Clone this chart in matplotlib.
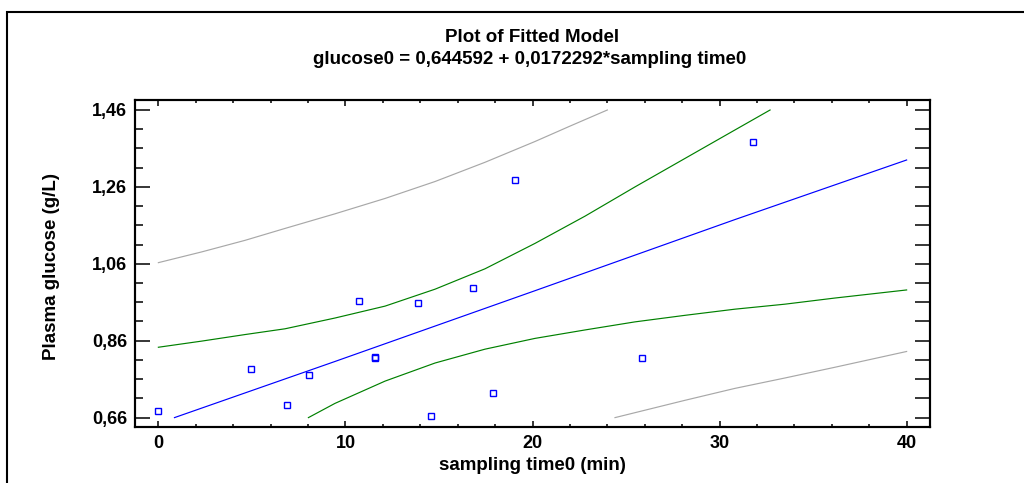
import numpy as np
import matplotlib.pyplot as plt
from matplotlib.ticker import FixedLocator, MultipleLocator, FuncFormatter
from matplotlib.patches import Rectangle

# observed points (sampling time, plasma glucose)
obs_time = [0, 4.94, 6.9, 8.07, 10.71, 11.56, 11.60, 13.88, 14.56, 16.82, 17.9, 19.06, 25.83, 31.77]
obs_gluc = [0.676, 0.787, 0.694, 0.771, 0.964, 0.816, 0.817, 0.957, 0.665, 0.996, 0.725, 1.279, 0.815, 1.377]

# fitted line
fit_x = [0.86, 9.44, 20.13, 30.82, 40.0]
fit_y = [0.66, 0.806, 0.990, 1.175, 1.330]

# confidence limits (green)
conf_up_x = [0, 2.32, 4.63, 6.77, 9.44, 12.12, 14.79, 17.46, 20.13, 22.81, 25.48, 28.15, 30.82, 32.7]
conf_up_y = [0.843, 0.859, 0.876, 0.891, 0.919, 0.950, 0.994, 1.047, 1.113, 1.184, 1.260, 1.334, 1.408, 1.46]
conf_lo_x = [8.02, 9.44, 12.12, 14.79, 17.46, 20.13, 22.81, 25.48, 28.15, 30.82, 33.49, 36.17, 40.0]
conf_lo_y = [0.66, 0.697, 0.755, 0.802, 0.838, 0.866, 0.888, 0.909, 0.926, 0.942, 0.955, 0.971, 0.992]

# prediction limits (gray)
pred_up_x = [0, 2.32, 4.63, 6.77, 9.44, 12.12, 14.79, 17.46, 20.13, 22.0, 24.0]
pred_up_y = [1.063, 1.091, 1.121, 1.152, 1.190, 1.230, 1.274, 1.324, 1.378, 1.418, 1.46]
pred_lo_x = [24.41, 28.15, 30.82, 33.49, 36.17, 40.0]
pred_lo_y = [0.66, 0.705, 0.736, 0.763, 0.791, 0.832]

y_ticks = [0.66, 0.86, 1.06, 1.26, 1.46]
x_ticks = [0, 10, 20, 30, 40]

plt.rcParams['font.family'] = ['Liberation Sans', 'DejaVu Sans']
plt.rcParams['font.weight'] = 'bold'

W, H = 1024, 483
fig = plt.figure(figsize=(W / 100, H / 100), dpi=100)
ax = fig.add_axes([135 / W, 1 - 427 / H, (930 - 135) / W, (427 - 100) / H])

ax.plot(pred_up_x, pred_up_y, color='#a8a8a8', lw=0.85)
ax.plot(pred_lo_x, pred_lo_y, color='#a8a8a8', lw=0.85)
ax.plot(conf_up_x, conf_up_y, color='#008000', lw=0.85)
ax.plot(conf_lo_x, conf_lo_y, color='#008000', lw=0.85)
ax.plot(fit_x, fit_y, color='#0000ff', lw=0.85)
ax.plot(obs_time, obs_gluc, 's', mfc='none', mec='#0000ff', ms=4.5, mew=1.0)

ax.set_xlim(-1.25, 41.25)
ax.set_ylim(0.6356, 1.486)

comma = FuncFormatter(lambda v, _: f"{v:.2f}".replace('.', ','))
ax.yaxis.set_major_locator(FixedLocator(y_ticks))
ax.yaxis.set_minor_locator(FixedLocator(np.arange(0.66, 1.4601, 0.05)))
ax.yaxis.set_major_formatter(comma)
ax.xaxis.set_major_locator(FixedLocator(x_ticks))
ax.xaxis.set_minor_locator(MultipleLocator(2))

ax.tick_params(axis='both', which='both', direction='in', width=1.1, labelsize=13)
ax.tick_params(axis='y', which='major', length=10.8, pad=5.8, left=True, right=False)
ax.tick_params(axis='y', which='minor', length=5.8, left=True, right=False)
ax.tick_params(axis='x', which='major', length=4.3, pad=6, top=True, bottom=True)
ax.tick_params(axis='x', which='minor', length=2.4, top=True, bottom=True)

# right side ticks all same length
ax2 = ax.twinx()
ax2.set_ylim(ax.get_ylim())
ax2.yaxis.set_major_locator(FixedLocator(np.arange(0.66, 1.4601, 0.05)))
ax2.tick_params(axis='y', direction='in', length=10.8, width=1.1, labelright=False)

for a in (ax, ax2):
    for s in a.spines.values():
        s.set_linewidth(1.5)

fig.text(532 / W, 1 - 37 / H, 'Plot of Fitted Model', ha='center', va='center', fontsize=13.5, fontweight='bold')
fig.text(530 / W, 1 - 60 / H, 'glucose0 = 0,644592 + 0,0172292*sampling time0',
         ha='center', va='center', fontsize=13.5, fontweight='bold')
fig.text(532 / W, 1 - 465 / H, 'sampling time0 (min)', ha='center', va='center', fontsize=13.5, fontweight='bold')
fig.text(52 / W, 1 - 267 / H, 'Plasma glucose (g/L)', ha='center', va='center', rotation=90,
         fontsize=13.5, fontweight='bold')

# outer frame, runs off right and bottom edges
fig.add_artist(Rectangle((7 / W, -0.2), 1.2, 1.2 - 11.5 / H, transform=fig.transFigure,
                         fill=False, ec='black', lw=1.5))

plt.savefig('out.png', dpi=100)
